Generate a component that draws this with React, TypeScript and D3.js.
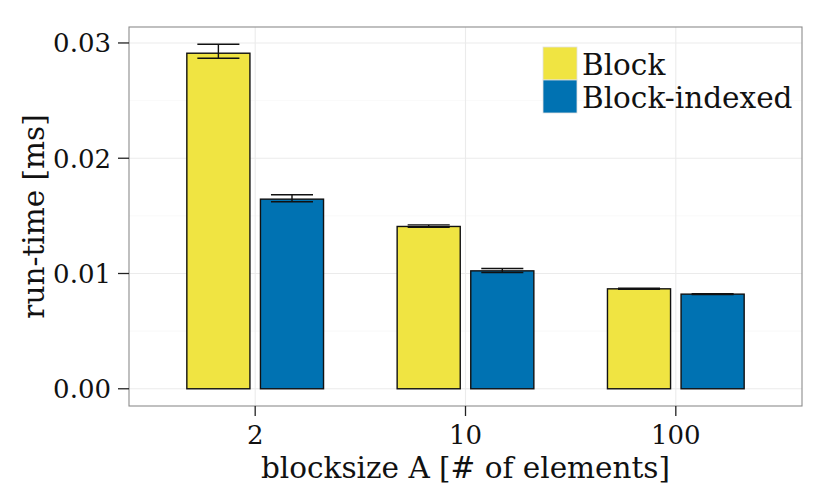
import { useEffect, useRef } from "react";
import * as d3 from "d3";

// blocksize categories
const categories = ["2", "10", "100"];
const seriesNames = ["Block", "Block-indexed"];
const seriesColors = ["#F0E442", "#0072B2"];

// mean run-time [ms] and error bar bounds
const blockMean = [0.02911, 0.01408, 0.00867];
const blockLower = [0.02868, 0.01401, 0.00862];
const blockUpper = [0.02989, 0.01422, 0.00872];
const indexedMean = [0.01645, 0.01023, 0.00821];
const indexedLower = [0.01622, 0.01009, 0.00818];
const indexedUpper = [0.01683, 0.01043, 0.00825];

const yTicks = [0, 0.01, 0.02, 0.03];
const yTickLabels = ["0.00", "0.01", "0.02", "0.03"];

const WIDTH = 830;
const HEIGHT = 498;
const FONT = "'DejaVu Serif', serif";

interface Row {
  cat: string;
  series: number;
  mean: number;
  lower: number;
  upper: number;
}

const App = () => {
  const ref = useRef<SVGSVGElement>(null);

  useEffect(() => {
    const svg = d3.select(ref.current);
    svg.selectAll("*").remove();

    const rows: Row[] = [];
    categories.forEach((c, i) => {
      rows.push({ cat: c, series: 0, mean: blockMean[i], lower: blockLower[i], upper: blockUpper[i] });
      rows.push({ cat: c, series: 1, mean: indexedMean[i], lower: indexedLower[i], upper: indexedUpper[i] });
    });

    const left = 129;
    const right = 802;
    const top = 27;
    const bottom = 406;

    const x = d3.scalePoint<string>().domain(categories).range([left, right]).padding(0.6);
    const step = x.step();

    const yMax = d3.max(rows, (d) => d.upper)!;
    const pad = yMax * 0.05;
    const y = d3.scaleLinear().domain([-pad, yMax + pad]).range([bottom, top]);

    // dodge: width 0.7, bar width 0.6
    const dodge = 0.7 * step;
    const barW = (0.6 * step) / 2;
    const errW = 0.2 * step;
    const xc = (d: Row) => x(d.cat)! + (d.series - 0.5) * (dodge / 2);

    // panel background
    svg.append("rect").attr("x", left).attr("y", top).attr("width", right - left).attr("height", bottom - top).attr("fill", "white");

    // minor grid
    const minor = d3.range(0.005, yMax + pad, 0.01);
    svg
      .append("g")
      .selectAll("line")
      .data(minor)
      .enter()
      .append("line")
      .attr("x1", left)
      .attr("x2", right)
      .attr("y1", (d) => y(d))
      .attr("y2", (d) => y(d))
      .attr("stroke", "#f5f5f5")
      .attr("stroke-width", 0.6);

    // major grid
    svg
      .append("g")
      .selectAll("line")
      .data(yTicks)
      .enter()
      .append("line")
      .attr("x1", left)
      .attr("x2", right)
      .attr("y1", (d) => y(d))
      .attr("y2", (d) => y(d))
      .attr("stroke", "#ebebeb")
      .attr("stroke-width", 1.1);
    svg
      .append("g")
      .selectAll("line")
      .data(categories)
      .enter()
      .append("line")
      .attr("x1", (d) => x(d)!)
      .attr("x2", (d) => x(d)!)
      .attr("y1", top)
      .attr("y2", bottom)
      .attr("stroke", "#ebebeb")
      .attr("stroke-width", 1.1);

    // bars
    svg
      .append("g")
      .selectAll("rect")
      .data(rows)
      .enter()
      .append("rect")
      .attr("x", (d) => xc(d) - barW / 2)
      .attr("width", barW)
      .attr("y", (d) => y(d.mean))
      .attr("height", (d) => y(0) - y(d.mean))
      .attr("fill", (d) => seriesColors[d.series])
      .attr("stroke", "#111")
      .attr("stroke-width", 1.4);

    // error bars
    const eb = svg.append("g").attr("stroke", "#111").attr("stroke-width", 1.4).attr("fill", "none");
    eb.selectAll("path")
      .data(rows)
      .enter()
      .append("path")
      .attr("d", (d) => {
        const cx = xc(d);
        const a = y(d.upper);
        const b = y(d.lower);
        return `M${cx - errW / 2},${a}H${cx + errW / 2}M${cx},${a}V${b}M${cx - errW / 2},${b}H${cx + errW / 2}`;
      });

    // panel border
    svg
      .append("rect")
      .attr("x", left)
      .attr("y", top)
      .attr("width", right - left)
      .attr("height", bottom - top)
      .attr("fill", "none")
      .attr("stroke", "#8c8c8c")
      .attr("stroke-width", 1.1);

    // y axis ticks + labels
    const yg = svg.append("g");
    yg.selectAll("line")
      .data(yTicks)
      .enter()
      .append("line")
      .attr("x1", left - 11)
      .attr("x2", left)
      .attr("y1", (d) => y(d))
      .attr("y2", (d) => y(d))
      .attr("stroke", "#222")
      .attr("stroke-width", 1.3);
    yg.selectAll("text")
      .data(yTicks)
      .enter()
      .append("text")
      .attr("x", left - 18)
      .attr("y", (d) => y(d) + 9.5)
      .attr("text-anchor", "end")
      .attr("font-family", FONT)
      .attr("font-size", 26)
      .attr("fill", "#111")
      .text((_, i) => yTickLabels[i]);

    // x axis ticks + labels
    const xg = svg.append("g");
    xg.selectAll("line")
      .data(categories)
      .enter()
      .append("line")
      .attr("x1", (d) => x(d)!)
      .attr("x2", (d) => x(d)!)
      .attr("y1", bottom)
      .attr("y2", bottom + 10)
      .attr("stroke", "#222")
      .attr("stroke-width", 1.3);
    xg.selectAll("text")
      .data(categories)
      .enter()
      .append("text")
      .attr("x", (d) => x(d)!)
      .attr("y", bottom + 38)
      .attr("text-anchor", "middle")
      .attr("font-family", FONT)
      .attr("font-size", 26)
      .attr("fill", "#111")
      .text((d) => d);

    // axis titles
    svg
      .append("text")
      .attr("x", (left + right) / 2)
      .attr("y", 478)
      .attr("text-anchor", "middle")
      .attr("font-family", FONT)
      .attr("font-size", 29.5)
      .attr("fill", "#111")
      .text("blocksize A [# of elements]");
    svg
      .append("text")
      .attr("transform", `translate(44,${(top + bottom) / 2}) rotate(-90)`)
      .attr("text-anchor", "middle")
      .attr("font-family", FONT)
      .attr("font-size", 29.5)
      .attr("fill", "#111")
      .text("run-time [ms]");

    // legend
    const lg = svg.append("g").attr("transform", "translate(543,47)");
    seriesNames.forEach((name, i) => {
      lg.append("rect")
        .attr("x", 0)
        .attr("y", i * 33)
        .attr("width", 34)
        .attr("height", 33)
        .attr("fill", seriesColors[i])
        .attr("stroke", "#e0e0e0")
        .attr("stroke-width", 0.8);
      lg.append("text")
        .attr("x", 39)
        .attr("y", i * 33 + 28)
        .attr("font-family", FONT)
        .attr("font-size", 29.5)
        .attr("fill", "#111")
        .text(name);
    });
  }, []);

  return (
    <div style={{ position: "absolute", left: 0, top: 0 }}>
      <svg ref={ref} width={WIDTH} height={HEIGHT} style={{ display: "block", background: "white" }} />
    </div>
  );
};

export default App;
